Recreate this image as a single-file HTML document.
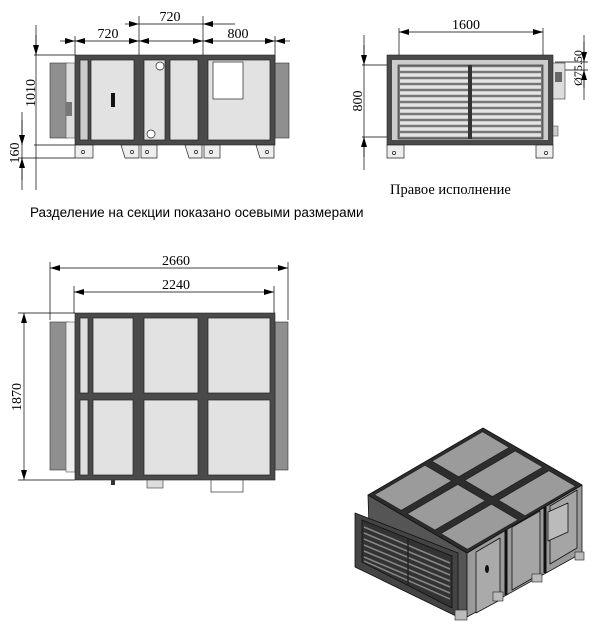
<!DOCTYPE html>
<html><head><meta charset="utf-8"><style>
body{margin:0;background:#fff}
svg{display:block}
</style></head><body>
<svg width="600" height="643" viewBox="0 0 600 643" xmlns="http://www.w3.org/2000/svg">
<defs>
<marker id="a" viewBox="0 0 10 6" refX="10" refY="3" markerWidth="10" markerHeight="6" orient="auto-start-reverse" markerUnits="userSpaceOnUse"><path d="M0,0 L10,3 L0,6 z" fill="#000"/></marker>
</defs>
<g font-family="Liberation Serif, serif" font-size="14" fill="#000">

<!-- ===== TOP LEFT VIEW ===== -->
<g stroke="#000" stroke-width="0.7" fill="none">
<line x1="139" y1="16" x2="139" y2="55"/><line x1="203" y1="16" x2="203" y2="55"/>
<line x1="75" y1="36" x2="75" y2="55"/><line x1="275" y1="36" x2="275" y2="62"/>
<line x1="125" y1="24" x2="139" y2="24" marker-end="url(#a)"/>
<line x1="139" y1="24" x2="203" y2="24"/>
<line x1="235" y1="24" x2="203" y2="24" marker-end="url(#a)"/>
<line x1="60" y1="41" x2="75" y2="41" marker-end="url(#a)"/>
<line x1="75" y1="41" x2="139" y2="41" marker-start="url(#a)" marker-end="url(#a)"/>
<line x1="139" y1="41" x2="203" y2="41" marker-start="url(#a)" marker-end="url(#a)"/>
<line x1="203" y1="41" x2="275" y2="41" marker-start="url(#a)" marker-end="url(#a)"/>
<line x1="290" y1="41" x2="275" y2="41" marker-end="url(#a)"/>
<line x1="34" y1="55" x2="75" y2="55"/><line x1="34" y1="145" x2="75" y2="145"/>
<line x1="18" y1="158" x2="75" y2="158"/>
<line x1="36" y1="25" x2="36" y2="190"/>
<line x1="36" y1="35" x2="36" y2="55" marker-end="url(#a)"/>
<line x1="22" y1="112" x2="22" y2="190"/>
<line x1="22" y1="120" x2="22" y2="145" marker-end="url(#a)"/>
<line x1="22" y1="180" x2="22" y2="158" marker-end="url(#a)"/>
</g>
<text x="170" y="21" text-anchor="middle">720</text>
<text x="108" y="38" text-anchor="middle">720</text>
<text x="238" y="38" text-anchor="middle">800</text>
<text transform="translate(35,93) rotate(-90)" text-anchor="middle">1010</text>
<text transform="translate(19,153) rotate(-90)" text-anchor="middle">160</text>

<rect x="50" y="63" width="18" height="75" fill="#8f8f8f" stroke="#333" stroke-width="0.6"/>
<rect x="66" y="63" width="9" height="75" fill="#ddd" stroke="#555" stroke-width="0.6"/>
<rect x="66" y="102" width="6" height="14" fill="#777"/>
<rect x="275" y="63" width="14" height="75" fill="#8f8f8f" stroke="#333" stroke-width="0.6"/>
<rect x="75" y="55" width="200" height="90" fill="#4a4a4a" stroke="#222" stroke-width="0.6"/>
<g fill="#e2e2e2" stroke="#222" stroke-width="0.7">
<rect x="80" y="60" width="8" height="80" fill="#ccc"/>
<rect x="91" y="60" width="43" height="80"/>
<rect x="144" y="60" width="21" height="80"/>
<rect x="170" y="60" width="28" height="80"/>
<rect x="208" y="60" width="62" height="80"/>
<rect x="213" y="62" width="30" height="37" fill="#fff"/>
</g>
<rect x="111" y="93" width="4" height="14" fill="#111"/>
<circle cx="160" cy="66" r="4" fill="#fff" stroke="#222" stroke-width="0.7"/>
<circle cx="151" cy="134" r="4" fill="#fff" stroke="#222" stroke-width="0.7"/>
<g fill="#eee" stroke="#222" stroke-width="0.7">
<path d="M75 145 H93 V158 H75 z"/><path d="M121 145 H139 V158 H125 z"/>
<path d="M141 145 H157 V158 H141 z"/><path d="M185 145 H202 V158 H189 z"/>
<path d="M204 145 H220 V158 H204 z"/><path d="M256 145 H274 V158 H260 z"/>
</g>
<g fill="none" stroke="#222" stroke-width="0.7">
<circle cx="83" cy="152" r="1.6"/><circle cx="132" cy="152" r="1.6"/><circle cx="147" cy="152" r="1.6"/>
<circle cx="196" cy="152" r="1.6"/><circle cx="211" cy="152" r="1.6"/><circle cx="267" cy="152" r="1.6"/>
</g>
<text x="30" y="217" font-family="Liberation Sans, sans-serif" font-size="13.5">Разделение на секции показано осевыми размерами</text>

<!-- ===== TOP RIGHT VIEW ===== -->
<g stroke="#000" stroke-width="0.7" fill="none">
<line x1="399" y1="28" x2="399" y2="65"/><line x1="543" y1="28" x2="543" y2="60"/>
<line x1="399" y1="32" x2="543" y2="32" marker-start="url(#a)" marker-end="url(#a)"/>
<line x1="362" y1="65" x2="398" y2="65"/><line x1="362" y1="137" x2="398" y2="137"/>
<line x1="364" y1="35" x2="364" y2="170"/>
<line x1="364" y1="45" x2="364" y2="65" marker-end="url(#a)"/>
<line x1="364" y1="157" x2="364" y2="137" marker-end="url(#a)"/>
<line x1="555" y1="62" x2="588" y2="62"/><line x1="555" y1="70" x2="588" y2="70"/>
<line x1="584" y1="35" x2="584" y2="100"/>
<line x1="584" y1="42" x2="584" y2="62" marker-end="url(#a)"/>
<line x1="584" y1="88" x2="584" y2="70" marker-end="url(#a)"/>
</g>
<text x="466" y="29" text-anchor="middle">1600</text>
<text transform="translate(362,101) rotate(-90)" text-anchor="middle">800</text>
<text transform="translate(582,68) rotate(-90)" text-anchor="middle" font-size="12">Ø75.50</text>

<rect x="387" y="55" width="166" height="90" fill="#4a4a4a" stroke="#222" stroke-width="0.6"/>
<rect x="392" y="60" width="156" height="80" fill="#ccc"/>
<rect x="398" y="65" width="145" height="74" fill="#777" stroke="#222" stroke-width="0.6"/>
<g stroke="#e5e5e5" stroke-width="3.4">
<line x1="400" y1="69" x2="541" y2="69"/><line x1="400" y1="75" x2="541" y2="75"/>
<line x1="400" y1="81" x2="541" y2="81"/><line x1="400" y1="87" x2="541" y2="87"/>
<line x1="400" y1="93" x2="541" y2="93"/><line x1="400" y1="99" x2="541" y2="99"/>
<line x1="400" y1="105" x2="541" y2="105"/><line x1="400" y1="111" x2="541" y2="111"/>
<line x1="400" y1="117" x2="541" y2="117"/><line x1="400" y1="123" x2="541" y2="123"/>
<line x1="400" y1="129" x2="541" y2="129"/><line x1="400" y1="135" x2="541" y2="135"/>
</g>
<rect x="468" y="65" width="4" height="74" fill="#333"/>
<rect x="553" y="63" width="12" height="36" fill="#ddd" stroke="#333" stroke-width="0.6"/>
<rect x="555" y="72" width="7" height="10" fill="#666"/>
<rect x="553" y="126" width="5" height="10" fill="#ccc" stroke="#333" stroke-width="0.5"/>
<g fill="#eee" stroke="#222" stroke-width="0.7">
<path d="M387 145 H404 V158 H387 z"/><path d="M536 145 H553 V158 H536 z"/>
</g>
<circle cx="394" cy="153" r="1.6" fill="none" stroke="#222" stroke-width="0.7"/>
<circle cx="546" cy="153" r="1.6" fill="none" stroke="#222" stroke-width="0.7"/>
<text x="390" y="194" font-size="14.5">Правое исполнение</text>

<!-- ===== BOTTOM VIEW ===== -->
<g stroke="#000" stroke-width="0.7" fill="none">
<line x1="50" y1="262" x2="50" y2="320"/><line x1="288" y1="262" x2="288" y2="320"/>
<line x1="74" y1="286" x2="74" y2="313"/><line x1="274" y1="286" x2="274" y2="313"/>
<line x1="50" y1="268" x2="288" y2="268" marker-start="url(#a)" marker-end="url(#a)"/>
<line x1="74" y1="292" x2="274" y2="292" marker-start="url(#a)" marker-end="url(#a)"/>
<line x1="18" y1="313" x2="75" y2="313"/><line x1="18" y1="480" x2="75" y2="480"/>
<line x1="24" y1="313" x2="24" y2="480" marker-start="url(#a)" marker-end="url(#a)"/>
</g>
<text x="176" y="265" text-anchor="middle">2660</text>
<text x="176" y="289" text-anchor="middle">2240</text>
<text transform="translate(21,397) rotate(-90)" text-anchor="middle">1870</text>

<rect x="50" y="322" width="18" height="148" fill="#8f8f8f" stroke="#333" stroke-width="0.6"/>
<rect x="66" y="322" width="9" height="150" fill="#eee" stroke="#555" stroke-width="0.6"/>
<rect x="275" y="322" width="13" height="148" fill="#8f8f8f" stroke="#333" stroke-width="0.6"/>
<rect x="75" y="313" width="200" height="167" fill="#4a4a4a" stroke="#222" stroke-width="0.6"/>
<g fill="#e2e2e2" stroke="#222" stroke-width="0.7">
<rect x="80" y="318" width="8" height="75" fill="#ddd"/>
<rect x="80" y="400" width="8" height="75" fill="#ddd"/>
<rect x="93" y="318" width="40" height="75"/>
<rect x="93" y="400" width="40" height="75"/>
<rect x="144" y="318" width="54" height="75"/>
<rect x="144" y="400" width="54" height="75"/>
<rect x="208" y="318" width="62" height="75"/>
<rect x="208" y="400" width="62" height="75"/>
</g>
<rect x="111" y="480" width="4" height="5" fill="#333"/>
<rect x="147" y="480" width="16" height="8" fill="#ddd" stroke="#333" stroke-width="0.6"/>
<rect x="211" y="480" width="32" height="12" fill="#fff" stroke="#333" stroke-width="0.7"/>

<!-- ===== ISO VIEW ===== -->
<g stroke="#111" stroke-width="0.8" stroke-linejoin="round">
<polygon points="368,495 467,553 467,617 370,560" fill="#555"/>
<polygon points="467,553 582,485 582,553 467,617" fill="#9a9a9a"/>
<polygon points="368,495 483,428 582,485 467,553" fill="#2d2d2d"/>
<g fill="#9b9b9b" stroke="#222">
<polygon points="374.4,494.7 425,465.2 451.8,480.9 401.2,510.4"/>
<polygon points="407.1,513.9 457.7,484.4 485.5,500.6 434.9,530.1"/>
<polygon points="440.8,533.6 491.4,504.1 518.1,519.8 467.5,549.3"/>
<polygon points="431.9,461.2 482.5,431.7 509.3,447.4 458.7,476.9"/>
<polygon points="464.6,480.4 515.2,450.9 543,467.1 492.4,496.6"/>
<polygon points="498.3,500.1 548.9,470.6 575.6,486.3 525,515.8"/>
</g>
<line x1="506" y1="530" x2="506" y2="595" stroke-width="3"/>
<line x1="545" y1="507" x2="545" y2="573" stroke-width="3"/>
<polygon points="476,552 500,538 500,600 476,613" fill="#aaa"/>
<polygon points="512,527 540,511 540,574 512,590" fill="#a5a5a5"/>
<polygon points="550,506 577,490 577,548 550,564" fill="#a5a5a5"/>
<polygon points="548,512 568,503 568,532 548,541" fill="#bbb"/>
<polygon points="355,513 458,553 458,617 355,567" fill="#444"/>
<polygon points="362,520 452,556 452,608 362,562" fill="#333"/>
</g>
<g stroke="#888" stroke-width="1.5">
<line x1="364" y1="527" x2="450" y2="563"/><line x1="364" y1="533" x2="450" y2="569"/>
<line x1="364" y1="539" x2="450" y2="575"/><line x1="364" y1="545" x2="450" y2="581"/>
<line x1="364" y1="551" x2="450" y2="587"/><line x1="364" y1="557" x2="450" y2="593"/>
<line x1="364" y1="561" x2="450" y2="599"/>
</g>
<line x1="408" y1="538" x2="408" y2="585" stroke="#222" stroke-width="1.5"/>
<ellipse cx="487" cy="569" rx="2" ry="4" fill="#111"/>
<g fill="#bbb" stroke="#222" stroke-width="0.6">
<rect x="455" y="610" width="12" height="10"/><rect x="493" y="592" width="10" height="9"/>
<rect x="532" y="574" width="10" height="8"/><rect x="575" y="552" width="9" height="8"/>
</g>
</g>
</svg>
</body></html>
